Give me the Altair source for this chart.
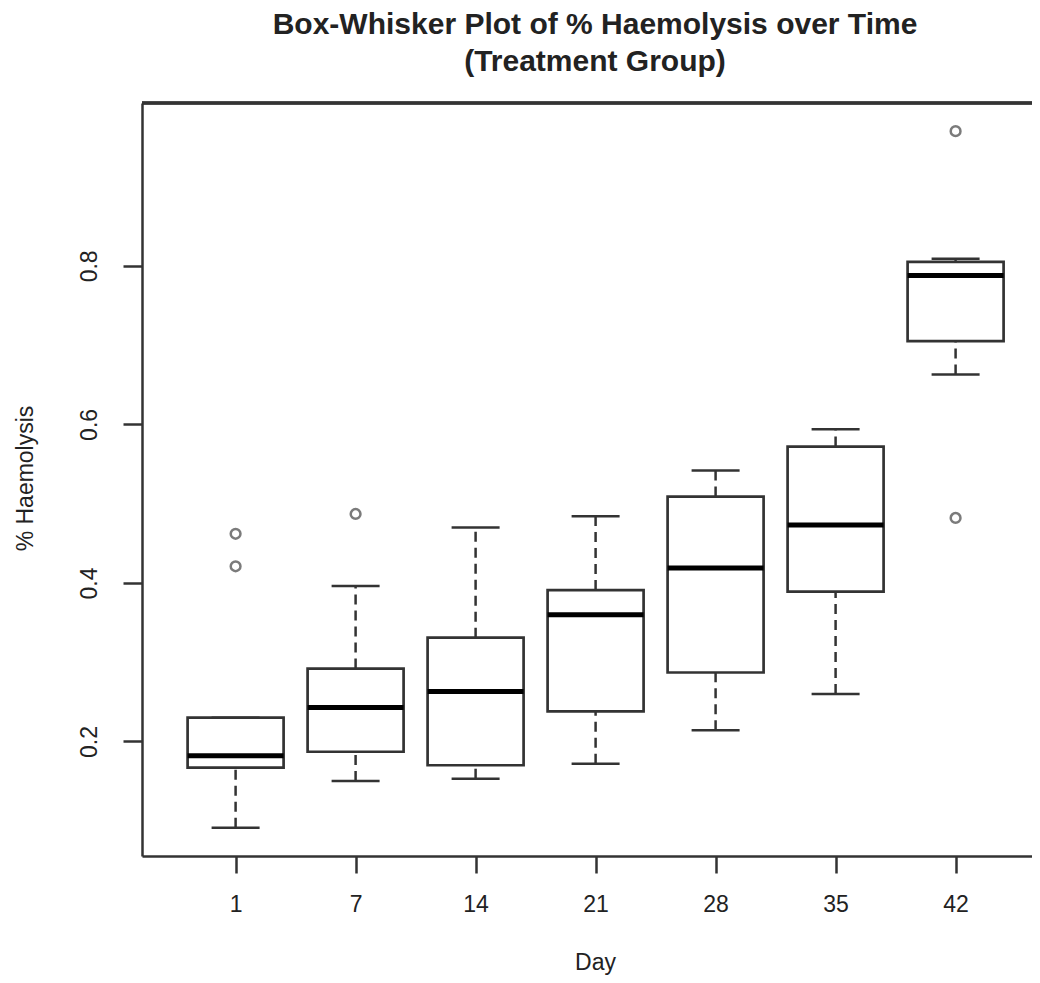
import altair as alt
import pandas as pd

# ---- data ----
days = ["1", "7", "14", "21", "28", "35", "42"]
positions = [1, 2, 3, 4, 5, 6, 7]
lower_whisker = [0.091, 0.150, 0.153, 0.172, 0.214, 0.260, 0.663]
q1 = [0.167, 0.187, 0.170, 0.238, 0.287, 0.389, 0.705]
median = [0.182, 0.243, 0.263, 0.360, 0.419, 0.473, 0.788]
q3 = [0.230, 0.292, 0.331, 0.391, 0.509, 0.572, 0.805]
upper_whisker = [0.230, 0.396, 0.470, 0.484, 0.542, 0.594, 0.809]

outlier_pos = [1, 1, 2, 7, 7]
outlier_val = [0.462, 0.421, 0.487, 0.970, 0.482]

y_ticks = [0.2, 0.4, 0.6, 0.8]

box_df = pd.DataFrame({
    "pos": positions, "day": days, "lo": lower_whisker, "q1": q1,
    "median": median, "q3": q3, "hi": upper_whisker,
})
out_df = pd.DataFrame({"pos": outlier_pos, "value": outlier_val})

FONT = "Liberation Sans"
LINE = "#333333"
W, H = 890, 753

x_scale = alt.Scale(domain=[0.22, 7.6367], nice=False, zero=False)
y_scale = alt.Scale(domain=[0.0555, 1.0055], nice=False, zero=False)

label_js = "[" + ",".join("'%s'" % d for d in days) + "]"
x_axis = alt.Axis(
    values=positions, labelExpr=label_js + "[datum.value - 1]", title="Day",
    grid=False, tickSize=17, tickWidth=2.5, tickColor=LINE, domainColor=LINE,
    domainWidth=2.5, labelFont=FONT, labelFontSize=23, labelColor="#222",
    labelPadding=20, titleFont=FONT, titleFontSize=23, titleFontWeight="normal",
    titleColor="#222", titleY=106, titleX=453, titleBaseline="middle",
)
y_axis = alt.Axis(
    values=y_ticks, format=".1f", title="% Haemolysis", grid=False,
    tickSize=19, tickWidth=2.5, tickColor=LINE, domainColor=LINE,
    domainWidth=2.5, labelFont=FONT, labelFontSize=23, labelColor="#222",
    labelAngle=-90, labelPadding=22, labelAlign="center", labelBaseline="bottom",
    titleFont=FONT, titleFontSize=23, titleFontWeight="normal", titleColor="#222",
    titleX=-117, titleY=375, titleAngle=-90, titleBaseline="middle",
    titleAlign="center",
)

base = alt.Chart(box_df).transform_calculate(
    left="datum.pos - 0.4", right="datum.pos + 0.4",
    sl="datum.pos - 0.2", sr="datum.pos + 0.2",
)

X = lambda f: alt.X(f, scale=x_scale, axis=x_axis)
Y = lambda f: alt.Y(f, scale=y_scale, axis=y_axis)

whisk_up = base.mark_rule(strokeDash=[10, 6], strokeWidth=2.5, color=LINE).encode(
    x=X("pos:Q"), y=Y("q3:Q"), y2="hi:Q")
whisk_lo = base.mark_rule(strokeDash=[10, 6], strokeWidth=2.5, color=LINE).encode(
    x=X("pos:Q"), y=Y("lo:Q"), y2="q1:Q")
staple_up = base.mark_rule(strokeWidth=2.5, color=LINE).encode(
    x=X("sl:Q"), x2="sr:Q", y=Y("hi:Q"))
staple_lo = base.mark_rule(strokeWidth=2.5, color=LINE).encode(
    x=X("sl:Q"), x2="sr:Q", y=Y("lo:Q"))
box = base.mark_rect(fill="white", stroke=LINE, strokeWidth=2.7).encode(
    x=X("left:Q"), x2="right:Q", y=Y("q1:Q"), y2="q3:Q")
med = base.mark_rule(strokeWidth=5, color="black").encode(
    x=X("left:Q"), x2="right:Q", y=Y("median:Q"))
outl = alt.Chart(out_df).mark_point(
    shape="circle", filled=False, size=95, stroke="#444444", strokeWidth=2.5
).encode(x=X("pos:Q"), y=Y("value:Q"))
top_border = alt.Chart(box_df).mark_rule(strokeWidth=2.5, color=LINE).encode(
    x=alt.value(0), x2=alt.value(W), y=alt.value(0))

chart = alt.layer(
    whisk_up, whisk_lo, staple_up, staple_lo, box, med, outl, top_border
).properties(
    width=W, height=H,
    title=alt.TitleParams(
        text=["Box-Whisker Plot of % Haemolysis over Time", "(Treatment Group)"],
        font=FONT, fontSize=30, fontWeight="bold", color="#222",
        anchor="middle", dx=8, offset=25, lineHeight=37,
    ),
    autosize=alt.AutoSizeParams(type="none"),
    padding={"left": 134, "top": 95, "right": 0, "bottom": 119},
).configure_view(stroke=None).configure(background="white")

chart.save("out.html", embed_options={"renderer": "svg", "actions": False})
